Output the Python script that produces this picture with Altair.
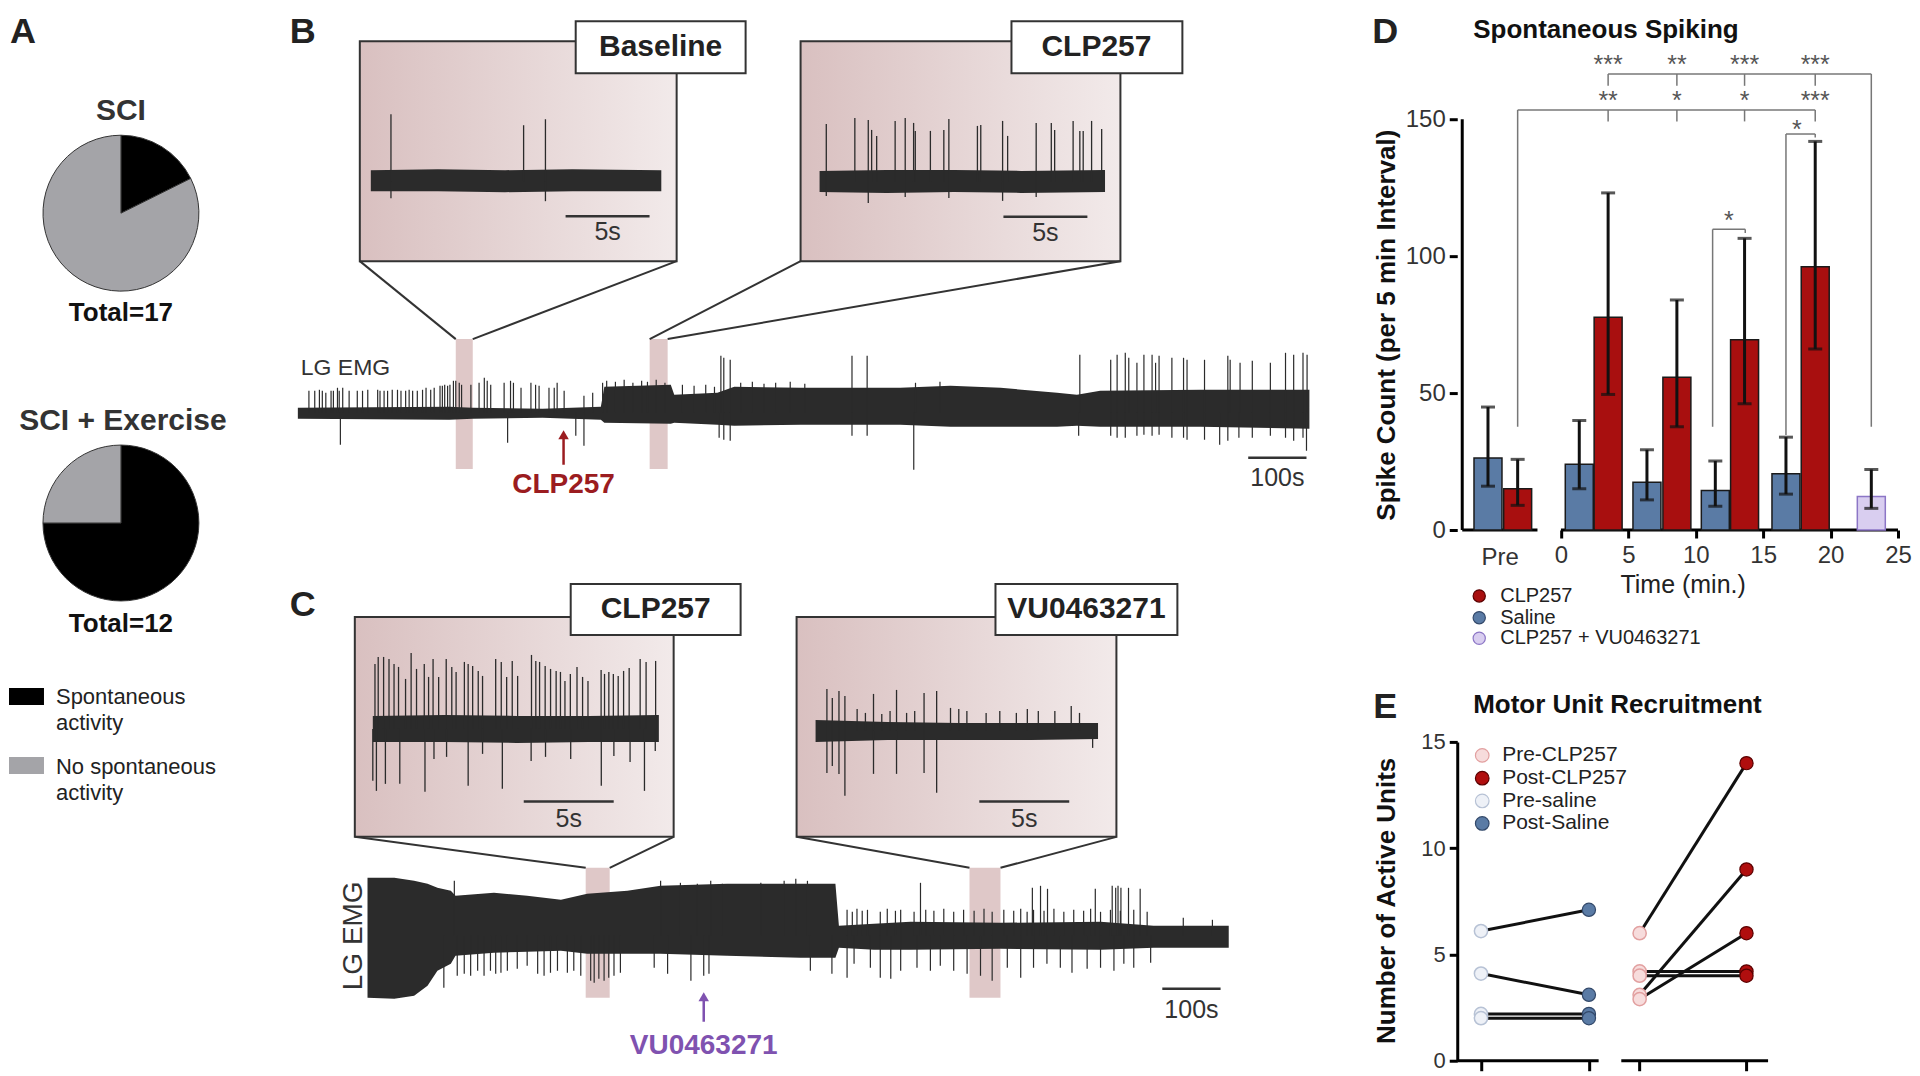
import altair as alt
import pandas as pd

FONT = "Liberation Sans"
INK = "#2b2b2b"
RED = "#a80f0f"
BLUE = "#5a7ba5"
LAV_FILL = "#d9cef0"
LAV_LINE = "#8c76c6"

# ======================= DATA =======================
# Panel A: pies (counts)
status_names = ["Spontaneous activity", "No spontaneous activity"]
sci_counts = [3, 14]
sci_ex_counts = [9, 3]

# Panel B, whole LG EMG trace: noise envelope (time s, amplitude a.u.) and spikes
bm_env_t = [0, 260, 300, 420, 520, 526, 640, 646, 720, 749, 863, 1034, 1120, 1206, 1303, 1337, 1377, 1549, 1736]
bm_env_hi = [5, 6, 5, 4, 6, 26, 28, 18, 20, 26, 25, 25, 27, 25, 20, 18, 22, 23, 23]
bm_env_lo = [-6, -7, -6, -5, -7, -10, -11, -10, -12, -13, -12, -12, -14, -14, -14, -13, -14, -14, -16]
bm_spikes = [
    (19, 22), (29, 22), (37, 23), (42, 22), (48, 20), (57, 22), (61, 22), (68, 25), (71, 22), (77, 25),
    (88, 22), (102, 22), (111, 22), (120, 23), (137, 23), (141, 22), (148, 22), (154, 22), (162, 23), (171, 23),
    (177, 22), (185, 22), (191, 23), (197, 22), (205, 22), (214, 23), (220, 25), (228, 23), (234, 25), (244, 27),
    (248, 27), (252, 28), (257, 27), (261, 28), (267, 32), (271, 32), (277, 30), (281, 28), (297, 28), (311, 30),
    (320, 35), (325, 32), (331, 28), (354, 30), (365, 32), (370, 30), (383, 25), (400, 30), (408, 28), (414, 27),
    (431, 25), (440, 25), (445, 30), (457, 22), (491, 17), (506, 20), (523, 30),
    (530, 32), (545, 31), (560, 33), (575, 30), (590, 32), (600, 31), (615, 33), (630, 30),
    (660, 28), (680, 27), (700, 28), (715, 26), (726, 57), (731, 55), (742, 53),
    (760, 30), (780, 31), (800, 29), (820, 30), (845, 31), (870, 29),
    (951, 57), (977, 57), (1060, 30), (1102, 31), (1342, 58), (1395, 53), (1406, 58), (1420, 60), (1426, 55),
    (1440, 50), (1452, 58), (1466, 58), (1472, 50), (1478, 57), (1500, 55), (1520, 55), (1526, 53), (1556, 53),
    (1596, 57), (1600, 53), (1617, 50), (1638, 52), (1669, 50), (1695, 60), (1709, 58), (1725, 60), (1732, 58),
    (73, -32), (360, -30), (477, -23), (491, -33), (723, -25), (731, -27), (742, -28), (951, -23), (977, -23),
    (1057, -57), (1340, -23), (1395, -23), (1406, -25), (1420, -25), (1440, -23), (1452, -22), (1466, -23),
    (1478, -22), (1500, -25), (1520, -25), (1526, -27), (1556, -27), (1582, -32), (1596, -28), (1615, -25),
    (1638, -25), (1669, -23), (1695, -25), (1709, -28), (1725, -25), (1731, -38),
]

# Panel B insets (time s)
b1_env_t = [0, 4, 8, 12, 17.3]
b1_env_hi = [11, 12, 11, 12, 11]
b1_env_lo = [-10, -10, -11, -10, -10]
b1_spikes = [(1.2, 67), (9.1, 56), (10.4, 62), (1.2, -17), (10.4, -20)]

b2_env_t = [0, 4, 8, 12, 17]
b2_env_hi = [11, 12, 12, 11, 12]
b2_env_lo = [-10, -11, -10, -11, -10]
b2_spikes = [
    (0.4, 58), (2.1, 64), (2.9, 62), (3.1, 52), (3.4, 46), (4.5, 61), (5.1, 64), (5.6, 59), (5.7, 51),
    (6.6, 51), (7.4, 52), (7.7, 63), (9.4, 56), (9.6, 57), (10.9, 61), (11.2, 46), (12.9, 59), (13.8, 59),
    (14.0, 52), (15.1, 61), (15.5, 51), (15.7, 51), (16.2, 61), (16.8, 53),
    (2.9, -21), (7.7, -16), (10.9, -19), (5.1, -15), (12.9, -15), (0.4, -14),
]

# Panel C insets
c1_env_t = [0, 4, 8, 12, 15.9]
c1_env_hi = [13, 14, 13, 13, 14]
c1_env_lo = [-13, -13, -14, -13, -13]
c1_spikes = [
    (0.12, 65), (0.30, 72), (0.60, 72), (0.90, 70), (1.18, 65), (1.43, 62), (1.82, 50), (2.13, 76), (2.43, 60),
    (2.86, 65), (3.10, 52), (3.35, 70), (3.66, 52), (4.08, 70), (4.39, 62), (4.63, 57), (5.09, 67), (5.30, 65),
    (5.55, 63), (5.86, 58), (6.10, 53), (6.83, 70), (7.14, 67), (7.44, 52), (7.75, 68), (8.05, 53), (8.82, 74),
    (9.06, 68), (9.27, 67), (9.58, 63), (9.88, 60), (10.19, 58), (10.43, 57), (10.68, 48), (10.98, 55),
    (11.35, 62), (11.66, 52), (11.96, 48), (12.69, 59), (12.88, 55), (13.12, 57), (13.37, 55), (13.64, 53),
    (13.94, 58), (14.25, 61), (14.86, 70), (15.19, 67), (15.72, 68),
    (0.0, -52), (0.2, -62), (0.7, -55), (1.5, -55), (2.9, -63), (5.3, -57), (7.2, -60), (12.7, -57), (15.1, -62),
    (3.4, -30), (4.1, -28), (6.1, -25), (8.8, -32), (9.6, -28), (11.0, -30), (13.4, -27), (14.3, -33), (15.7, -22),
]

c2_env_t = [0, 2, 4, 8, 12, 15.7]
c2_env_hi = [11, 10, 9, 8, 8, 8]
c2_env_lo = [-11, -10, -9, -9, -9, -8]
c2_spikes = [
    (0.63, 42), (0.93, 33), (1.30, 40), (1.63, 35), (3.22, 37), (4.50, 41), (6.03, 38), (6.73, 40),
    (2.31, 22), (2.77, 18), (3.68, 17), (4.14, 20), (5.06, 18), (5.51, 20), (7.50, 23), (7.96, 22), (8.41, 20),
    (9.48, 18), (10.24, 20), (11.16, 18), (11.77, 22), (12.38, 20), (13.30, 20), (14.21, 25), (14.67, 18),
    (0.63, -42), (0.93, -35), (1.30, -43), (1.63, -65), (3.22, -43), (4.50, -43), (6.03, -42), (6.73, -62),
    (15.4, -17),
]

# Panel C, whole LG EMG trace
cm_env_t = [0, 46, 80, 103, 120, 143, 151, 217, 274, 332, 377, 446, 503, 617, 743, 803, 809, 869, 932, 1086, 1258, 1349, 1478]
cm_env_hi = [58, 58, 55, 52, 48, 45, 40, 43, 40, 36, 42, 45, 50, 52, 52, 52, 10, 12, 14, 13, 14, 10, 10]
cm_env_lo = [-62, -63, -60, -50, -35, -28, -20, -17, -16, -15, -18, -18, -18, -20, -22, -22, -12, -14, -14, -13, -14, -12, -12]
cm_spikes = [
    (131, -52), (154, -40), (166, -38), (177, -40), (189, -35), (200, -40), (211, -35), (220, -38), (229, -37),
    (240, -35), (257, -33), (274, -30), (292, -38), (303, -40), (314, -37), (326, -35), (343, -37), (354, -35),
    (366, -40), (383, -45), (389, -47), (397, -43), (406, -45), (414, -42), (423, -40), (434, -37), (492, -32),
    (515, -38), (555, -45), (577, -40), (586, -38),
    (149, 55), (503, 55), (537, 53), (566, 52), (589, 55), (609, 52), (675, 53), (715, 55), (735, 57), (755, 55),
    (949, 53), (1141, 48), (1155, 50), (1167, 47), (1249, 47), (1278, 50), (1284, 48), (1288, 50), (1293, 48),
    (1306, 48), (1326, 47),
    (823, 26), (832, 24), (840, 27), (849, 25), (858, 26), (880, 24), (892, 27), (906, 25), (915, 26), (938, 24),
    (958, 26), (972, 25), (989, 27), (1006, 24), (1023, 26), (1041, 25), (1058, 27), (1072, 24), (1092, 26),
    (1109, 25), (1121, 27), (1132, 24), (1143, 26), (1161, 25), (1178, 27), (1195, 24), (1212, 26), (1229, 25),
    (1241, 27), (1258, 24), (1275, 26), (1292, 25), (1315, 26), (1338, 24), (1400, 18), (1450, 16),
    (760, -35), (797, -38), (823, -42), (835, -28), (863, -32), (880, -42), (898, -43), (915, -35), (943, -32),
    (966, -35), (983, -30), (1006, -35), (1029, -38), (1052, -40), (1072, -45), (1098, -32), (1121, -42),
    (1143, -32), (1166, -28), (1189, -32), (1209, -37), (1235, -33), (1258, -32), (1281, -35), (1298, -28),
    (1315, -32), (1344, -27),
]

# Panel D: spike counts per 5-min interval
d_groups = ["CLP257", "Saline", "CLP257 + VU0463271"]
d_pos = [-5.41, -3.21, 1.36, 3.50, 6.38, 8.60, 11.45, 13.62, 16.69, 18.86, 23.02]
d_treat = ["Saline", "CLP257", "Saline", "CLP257", "Saline", "CLP257", "Saline", "CLP257", "Saline", "CLP257",
           "CLP257 + VU0463271"]
d_mean = [26.3, 15.1, 24.0, 77.7, 17.4, 55.8, 14.4, 69.5, 20.5, 96.1, 12.2]
d_err_lo = [16.0, 9.0, 15.1, 49.5, 11.0, 37.7, 8.7, 46.1, 13.1, 66.1, 7.9]
d_err_hi = [44.9, 25.8, 40.0, 123.1, 29.3, 84.0, 25.2, 106.5, 33.9, 141.9, 22.1]
d_time_ticks = [0, 5, 10, 15, 20, 25]
d_count_ticks = [0, 50, 100, 150]
sig_h = [(3.50, 23.02, 166.5), (-3.21, 18.86, 153.4), (16.69, 18.86, 144.6), (11.25, 13.67, 109.8)]
sig_v = [(3.50, 166.5, 162.2), (8.60, 166.5, 162.2), (13.62, 166.5, 162.2), (18.86, 166.5, 162.2),
         (23.02, 166.5, 37.7), (-3.21, 153.4, 37.7), (3.50, 153.4, 149.2), (8.60, 153.4, 149.2),
         (13.62, 153.4, 149.2), (18.86, 153.4, 149.2), (16.69, 144.6, 34.7), (18.86, 144.6, 143.3),
         (11.25, 109.8, 37.7), (13.67, 109.8, 108.5)]
sig_stars = [("***", 3.50, 170.0), ("**", 8.60, 170.0), ("***", 13.62, 170.0), ("***", 18.86, 170.0),
             ("**", 3.50, 157.0), ("*", 8.60, 157.0), ("*", 13.62, 157.0), ("***", 18.86, 157.0),
             ("*", 17.50, 146.5), ("*", 12.46, 113.3)]

# Panel E: active motor units, pre vs post
e_treat = ["Saline", "Saline", "Saline", "Saline", "CLP257", "CLP257", "CLP257", "CLP257", "CLP257"]
e_pre = [6.1, 4.1, 2.2, 2.0, 6.0, 3.1, 2.9, 4.2, 4.0]
e_post = [7.1, 3.1, 2.2, 2.0, 14.0, 9.0, 6.0, 4.2, 4.0]
e_ticks = [0, 5, 10, 15]

# ======================= LAYOUT =======================
W, H = 1322, 1060
PXS = alt.Scale(domain=[0, W], nice=False, zero=False)
PYS = alt.Scale(domain=[0, H], nice=False, zero=False, reverse=True)


def px(f):
    return alt.X(f, scale=PXS, axis=None)


def py(f):
    return alt.Y(f, scale=PYS, axis=None)


def ptext(rows, **mk):
    df = pd.DataFrame(rows, columns=["x", "y", "s"])
    return alt.Chart(df).mark_text(**mk).encode(x=px("x:Q"), y=py("y:Q"), text="s:N")


pink = alt.LinearGradient(
    gradient="linear",
    stops=[alt.GradientStop(color="#d9c0c0", offset=0), alt.GradientStop(color="#f2eaea", offset=1)],
    x1=0, x2=1, y1=0, y2=0,
)

inset_boxes = pd.DataFrame({"x1": [351, 792, 346, 788], "x2": [668, 1112, 665, 1108],
                            "y1": [32, 32, 608, 608], "y2": [252, 252, 828, 828]})
label_boxes = pd.DataFrame({"x1": [567, 1003, 562, 987], "x2": [737, 1174, 732, 1169],
                            "y1": [12, 12, 575, 575], "y2": [64, 64, 626, 626]})
highlights = pd.DataFrame({"x1": [447, 641, 577, 961], "x2": [464, 659, 601, 992],
                           "y1": [330, 330, 859, 859], "y2": [460, 460, 989, 989]})
connectors = pd.DataFrame({
    "x1": [351, 668, 792, 1112, 346, 665, 788, 1108],
    "y1": [252, 252, 252, 252, 828, 828, 828, 828],
    "x2": [447, 464, 641, 659, 577, 601, 961, 992],
    "y2": [330, 330, 330, 330, 859, 859, 859, 859],
})
legend_sq = pd.DataFrame({"x1": [0, 0], "x2": [35, 35], "y1": [679, 748], "y2": [696, 765],
                          "status": status_names})


def rect_layer(df, **mk):
    return alt.Chart(df).mark_rect(**mk).encode(x=px("x1:Q"), x2="x2:Q", y=py("y1:Q"), y2="y2:Q")


def trace(env_t, env_hi, env_lo, spikes, x0, k, yb, bar=None, arrow=None, sw=1.3):
    xs = alt.Scale(domain=[-x0 / k, (W - x0) / k], nice=False, zero=False)
    ys = alt.Scale(domain=[yb - H, yb], nice=False, zero=False)

    def X(f):
        return alt.X(f, scale=xs, axis=None)

    def Y(f):
        return alt.Y(f, scale=ys, axis=None)

    env = pd.DataFrame({"t": env_t, "hi": env_hi, "lo": env_lo})
    spk = pd.DataFrame(spikes, columns=["t", "a"])
    layers = [
        alt.Chart(env).mark_area(color=INK).encode(x=X("t:Q"), y=Y("hi:Q"), y2="lo:Q"),
        alt.Chart(spk).transform_calculate(z="0").mark_rule(color=INK, strokeWidth=sw).encode(
            x=X("t:Q"), y=Y("a:Q"), y2="z:Q"),
    ]
    if bar is not None:
        t0, length, amp, label, fs, off = bar
        bdf = pd.DataFrame({"t0": [t0], "t1": [t0 + length], "a": [amp], "tm": [t0 + length / 2],
                            "al": [amp - off], "s": [label]})
        layers.append(alt.Chart(bdf).mark_rule(color="#333", strokeWidth=2.5).encode(
            x=X("t0:Q"), x2="t1:Q", y=Y("a:Q")))
        layers.append(alt.Chart(bdf).mark_text(fontSize=fs, color="#333", baseline="middle").encode(
            x=X("tm:Q"), y=Y("al:Q"), text="s:N"))
    if arrow is not None:
        t, tip, base, color, label, la, fs = arrow
        adf = pd.DataFrame({"t": [t], "tip": [tip - 6], "base": [base], "head": [tip - 6], "la": [la],
                            "s": [label]})
        layers.append(alt.Chart(adf).mark_rule(color=color, strokeWidth=2.5).encode(
            x=X("t:Q"), y=Y("head:Q"), y2="base:Q"))
        layers.append(alt.Chart(adf).mark_point(shape="triangle-up", filled=True, size=110, color=color,
                                                opacity=1).encode(x=X("t:Q"), y=Y("tip:Q")))
        layers.append(alt.Chart(adf).mark_text(fontSize=fs, fontWeight="bold", color=color,
                                               baseline="middle").encode(x=X("t:Q"), y=Y("la:Q"), text="s:N"))
    return alt.layer(*layers)


def pie(counts, cx, cy):
    df = pd.DataFrame({"status": status_names, "n": counts, "k": [0, 1]})
    return alt.Chart(df).mark_arc(outerRadius=78, stroke="#333", strokeWidth=1).encode(
        theta=alt.Theta("n:Q", stack=True),
        order=alt.Order("k:Q"),
        fill=alt.Fill("status:N", scale=alt.Scale(domain=status_names, range=["#000000", "#a4a4a8"]),
                      legend=None),
        x=alt.value(cx), y=alt.value(cy),
    )


left = alt.layer(
    rect_layer(inset_boxes, fill=pink, stroke="#333", strokeWidth=2),
    rect_layer(highlights, fill="#dfc8c8"),
    alt.Chart(connectors).mark_rule(color="#333", strokeWidth=2).encode(
        x=px("x1:Q"), y=py("y1:Q"), x2="x2:Q", y2="y2:Q"),
    trace(bm_env_t, bm_env_hi, bm_env_lo, bm_spikes, 289, 0.583, 403.7,
          bar=(1631, 100, -45, "100s", 25, 20),
          arrow=(456, -16, -52, "#9b1c20", "CLP257", -72, 28), sw=1.2),
    trace(b1_env_t, b1_env_hi, b1_env_lo, b1_spikes, 362, 16.8, 172, bar=(11.6, 5, -35, "5s", 25, 16)),
    trace(b2_env_t, b2_env_hi, b2_env_lo, b2_spikes, 811, 16.8, 172.7, bar=(10.95, 5, -35, "5s", 25, 16)),
    trace(c1_env_t, c1_env_hi, c1_env_lo, c1_spikes, 364, 18, 720, bar=(8.39, 5, -72.7, "5s", 25, 17)),
    trace(c2_env_t, c2_env_hi, c2_env_lo, c2_spikes, 807, 18, 722, bar=(9.1, 5, -70.7, "5s", 25, 17)),
    trace(cm_env_t, cm_env_hi, cm_env_lo, cm_spikes, 358.7, 0.583, 927,
          bar=(1364, 100, -53, "100s", 25, 21),
          arrow=(577, -55, -86, "#7f52b0", "VU0463271", -110, 28), sw=1.2),
    rect_layer(label_boxes, fill="white", stroke="#333", strokeWidth=2),
    alt.Chart(legend_sq).mark_rect().encode(
        x=px("x1:Q"), x2="x2:Q", y=py("y1:Q"), y2="y2:Q",
        fill=alt.Fill("status:N", scale=alt.Scale(domain=status_names, range=["#000000", "#a4a4a8"]),
                      legend=None)),
    pie(sci_counts, 112, 204),
    pie(sci_ex_counts, 112, 514),
    ptext([(14, 34, "A"), (294, 34, "B"), (294, 607, "C")], fontSize=36, fontWeight="bold", color="#222",
          baseline="alphabetic", align="center"),
    ptext([(112, 102, "SCI"), (114, 412, "SCI + Exercise")], fontSize=30, fontWeight="bold", color="#333",
          baseline="middle"),
    ptext([(112, 304, "Total=17"), (112, 615, "Total=12")], fontSize=26, fontWeight="bold", color="#111",
          baseline="middle"),
    ptext([(47, 688, "Spontaneous"), (47, 714, "activity"), (47, 758, "No spontaneous"), (47, 784, "activity")],
          fontSize=22, color="#222", align="left", baseline="middle"),
    ptext([(652, 38, "Baseline"), (1088, 38, "CLP257"), (647, 600, "CLP257"), (1078, 600, "VU0463271")],
          fontSize=30, fontWeight="bold", color="#222", baseline="middle"),
    ptext([(292, 359, "LG EMG")], fontSize=23, color="#333", align="left", baseline="middle"),
    ptext([(345, 927, "LG EMG")], fontSize=28, color="#333", baseline="middle", angle=270),
).resolve_scale(x="independent", y="independent", theta="independent").properties(width=W, height=H)

# ---------------- Panel D ----------------
DW, DH = 446, 521
XD = alt.Scale(domain=[-7.32, 25], nice=False, zero=False)
YD = alt.Scale(domain=[0, 190.15], nice=False, zero=False)
AXD_X = alt.Axis(values=d_time_ticks, domain=False, grid=False, tickSize=8, tickWidth=3, tickColor="black",
                 labelFontSize=24, labelColor="#333", labelPadding=6, labelFlush=False, title=None, format="d")
AXD_Y = alt.Axis(values=d_count_ticks, domain=False, grid=False, tickSize=8, tickWidth=3, tickColor="black",
                 labelFontSize=24, labelColor="#333", labelPadding=4, title=None, format="d")


def xd(f):
    return alt.X(f, scale=XD, axis=AXD_X)


def yd(f):
    return alt.Y(f, scale=YD, axis=AXD_Y)


d_df = pd.DataFrame({"pos": d_pos, "treat": d_treat, "mean": d_mean, "lo": d_err_lo, "hi": d_err_hi})
d_axes_v = pd.DataFrame({"x": [-7.32], "y1": [0], "y2": [150]})
d_axes_h = pd.DataFrame({"x1": [-7.32, 0], "x2": [-1.74, 25], "y": [0, 0]})
sig_h_df = pd.DataFrame(sig_h, columns=["x1", "x2", "y"])
sig_v_df = pd.DataFrame(sig_v, columns=["x", "y1", "y2"])
sig_s_df = pd.DataFrame(sig_stars, columns=["s", "x", "y"])


def legend_entry(x, y, label, fill, stroke, size, fs, tx=21):
    df = pd.DataFrame({"s": [label]})
    pt = alt.Chart(df).mark_point(filled=True, shape="circle", size=size, fill=fill, stroke=stroke,
                                  strokeWidth=1.2, opacity=1).encode(x=alt.value(x), y=alt.value(y))
    tt = alt.Chart(df).mark_text(align="left", baseline="middle", fontSize=fs, color="#222").encode(
        x=alt.value(x + tx), y=alt.value(y), text="s:N")
    return [pt, tt]


def vtext(x, y, s, **mk):
    return alt.Chart(pd.DataFrame({"s": [s]})).mark_text(**mk).encode(x=alt.value(x), y=alt.value(y), text="s:N")


d_layers = [
    alt.Chart(d_axes_v).mark_rule(color="black", strokeWidth=3).encode(x=xd("x:Q"), y=yd("y1:Q"), y2="y2:Q"),
    alt.Chart(d_axes_h).mark_rule(color="black", strokeWidth=3).encode(x=xd("x1:Q"), x2="x2:Q", y=yd("y:Q")),
    alt.Chart(d_df).mark_bar(orient="vertical", size=28, strokeWidth=1.5).encode(
        x=xd("pos:Q"), y=yd("mean:Q"),
        fill=alt.Fill("treat:N", scale=alt.Scale(domain=d_groups, range=[RED, BLUE, LAV_FILL]), legend=None),
        stroke=alt.Stroke("treat:N", scale=alt.Scale(domain=d_groups, range=["#1a1a1a", "#1a1a1a", LAV_LINE]),
                          legend=None)),
    alt.Chart(d_df).mark_rule(color="#111", strokeWidth=3).encode(x=xd("pos:Q"), y=yd("lo:Q"), y2="hi:Q"),
    alt.Chart(d_df).transform_fold(["lo", "hi"], as_=["k", "v"]).mark_tick(
        orient="horizontal", size=14, thickness=3, color="#111").encode(x=xd("pos:Q"), y=yd("v:Q")),
    alt.Chart(sig_h_df).mark_rule(color="#777", strokeWidth=1.5).encode(x=xd("x1:Q"), x2="x2:Q", y=yd("y:Q")),
    alt.Chart(sig_v_df).mark_rule(color="#777", strokeWidth=1.5).encode(x=xd("x:Q"), y=yd("y1:Q"), y2="y2:Q"),
    alt.Chart(sig_s_df).mark_text(fontSize=25, color="#555", baseline="alphabetic", dy=9).encode(
        x=xd("x:Q"), y=yd("y:Q"), text="s:N"),
    vtext(-72, 34, "D", fontSize=36, fontWeight="bold", color="#222", baseline="alphabetic"),
    vtext(16, 21, "Spontaneous Spiking", fontSize=26, fontWeight="bold", color="#111", align="left",
          baseline="middle"),
    vtext(-70, 316, "Spike Count (per 5 min Interval)", fontSize=26, fontWeight="bold", color="#111",
          angle=270, baseline="middle"),
    vtext(43, 549, "Pre", fontSize=24, color="#333", baseline="middle"),
    vtext(226, 576, "Time (min.)", fontSize=25, color="#222", baseline="middle"),
]
d_layers += legend_entry(22, 587, "CLP257", RED, "#5a0000", 150, 20)
d_layers += legend_entry(22, 608.7, "Saline", BLUE, "#33496a", 150, 20)
d_layers += legend_entry(22, 629.3, "CLP257 + VU0463271", LAV_FILL, LAV_LINE, 150, 20)
panel_d = alt.layer(*d_layers).properties(width=DW, height=DH)

# ---------------- Panel E ----------------
EW, EH = 311, 319
E_XPOS = {"Saline": (0.0, 1.0), "CLP257": (1.47, 2.46)}
XE = alt.Scale(domain=[-0.22, 2.66], nice=False, zero=False)
YE = alt.Scale(domain=[0, 15], nice=False, zero=False)
AXE_X = alt.Axis(values=[0.0, 1.0, 1.47, 2.46], labels=False, domain=False, grid=False, tickSize=10, tickWidth=3,
                 tickColor="black", title=None)
AXE_Y = alt.Axis(values=e_ticks, domain=True, domainWidth=3, domainColor="black", grid=False, tickSize=8,
                 tickWidth=3, tickColor="black", labelFontSize=22, labelColor="#333", labelPadding=4, title=None,
                 format="d")


def xe(f):
    return alt.X(f, scale=XE, axis=AXE_X)


def ye(f):
    return alt.Y(f, scale=YE, axis=AXE_Y)


e_df = pd.DataFrame({"treat": e_treat, "pre": e_pre, "post": e_post})
e_df["xpre"] = [E_XPOS[t][0] for t in e_treat]
e_df["xpost"] = [E_XPOS[t][1] for t in e_treat]
e_axes_h = pd.DataFrame({"x1": [-0.22, 1.30], "x2": [1.09, 2.66], "y": [0, 0]})

PRE_STYLE = {"Saline": ("#eef1f7", "#b7c2d5"), "CLP257": ("#f7dcdc", "#e2a0a0")}
POST_STYLE = {"Saline": (BLUE, "#33496a"), "CLP257": ("#b00e0e", "#5a0000")}

e_layers = [
    alt.Chart(e_axes_h).mark_rule(color="black", strokeWidth=3).encode(x=xe("x1:Q"), x2="x2:Q", y=ye("y:Q")),
    alt.Chart(e_df).mark_rule(color="#111", strokeWidth=3).encode(x=xe("xpre:Q"), x2="xpost:Q", y=ye("pre:Q"),
                                                                  y2="post:Q"),
]
for tr in ["Saline", "CLP257"]:
    f, s = PRE_STYLE[tr]
    e_layers.append(alt.Chart(e_df).transform_filter(alt.datum.treat == tr).mark_point(
        filled=True, shape="circle", size=175, fill=f, stroke=s, strokeWidth=1.5, opacity=1).encode(
        x=xe("xpre:Q"), y=ye("pre:Q")))
    f, s = POST_STYLE[tr]
    e_layers.append(alt.Chart(e_df).transform_filter(alt.datum.treat == tr).mark_point(
        filled=True, shape="circle", size=175, fill=f, stroke=s, strokeWidth=1.2, opacity=1).encode(
        x=xe("xpost:Q"), y=ye("post:Q")))
e_layers += [
    vtext(-72, -24, "E", fontSize=36, fontWeight="bold", color="#222", baseline="alphabetic"),
    vtext(16, -37, "Motor Unit Recruitment", fontSize=26, fontWeight="bold", color="#111", align="left",
          baseline="middle"),
    vtext(-70, 159, "Number of Active Units", fontSize=26, fontWeight="bold", color="#111", angle=270,
          baseline="middle"),
]
e_layers += legend_entry(25, 13.5, "Pre-CLP257", "#f7dcdc", "#e2a0a0", 185, 21, tx=20)
e_layers += legend_entry(25, 36.3, "Post-CLP257", "#b00e0e", "#5a0000", 185, 21, tx=20)
e_layers += legend_entry(25, 59.1, "Pre-saline", "#eef1f7", "#b7c2d5", 185, 21, tx=20)
e_layers += legend_entry(25, 81.6, "Post-Saline", BLUE, "#33496a", 185, 21, tx=20)
panel_e = alt.layer(*e_layers).properties(width=EW, height=EH)

right = alt.vconcat(panel_d, panel_e, spacing=212, bounds="flush").resolve_scale(
    fill="independent", stroke="independent")
chart = (
    alt.hconcat(left, right, spacing=127, bounds="flush")
    .resolve_scale(fill="independent", stroke="independent")
    .properties(padding=0, background="white")
    .configure_view(stroke="transparent")
    .configure_text(font=FONT)
    .configure_axis(labelFont=FONT, titleFont=FONT)
)
chart.save("out.html", embed_options={"renderer": "svg", "actions": False})
